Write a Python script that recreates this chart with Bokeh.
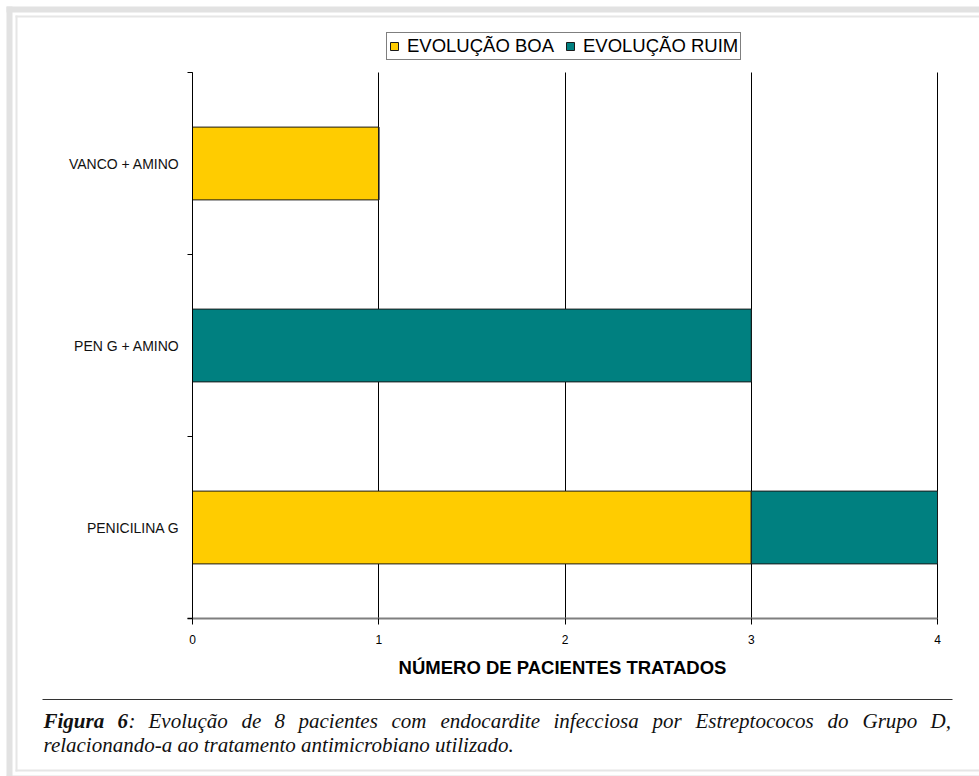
from bokeh.plotting import figure
from bokeh.models import (ColumnDataSource, Range1d, FixedTicker, Legend, LegendItem,
                          BoxAnnotation, Label, LinearAxis, Grid)
from bokeh.embed import file_html
from bokeh.resources import INLINE

# ---- data -------------------------------------------------------------
categories = ["PENICILINA G", "PEN G + AMINO", "VANCO + AMINO"]
evolucao_boa = [3, 0, 1]
evolucao_ruim = [1, 3, 0]
series_labels = ["EVOLUÇÃO BOA", "EVOLUÇÃO RUIM"]
series_colors = ["#FFCC00", "#008080"]
x_ticks = [0, 1, 2, 3, 4]
x_title = "NÚMERO DE PACIENTES TRATADOS"

caption_words = ["Figura", "6", ":", "Evolução", "de", "8", "pacientes", "com",
                 "endocardite", "infecciosa", "por", "Estreptococos", "do",
                 "Grupo", "D,"]
caption_line2 = "relacionando-a ao tratamento antimicrobiano utilizado."

# ---- page geometry (pixels) ---------------------------------------------
W, H = 979, 776
FL, FR, FT, FB = 192, 937, 72, 618   # edges of the bar area on the page

n = len(categories)
x_max = max(x_ticks)
px_x = (FR - FL) / x_max            # pixels per patient
px_y = (FB - FT) / n                # pixels per category row

y_centres = [i + 0.5 for i in range(n)]
y_bounds = [float(i) for i in range(n + 1)]

source = ColumnDataSource(dict(y=y_centres, boa=evolucao_boa, ruim=evolucao_ruim))

# the drawing frame covers the whole page; the ranges put 0..4 / rows on the bar area
p = figure(width=W, height=H, output_backend="svg", toolbar_location=None,
           x_range=Range1d(-FL / px_x, x_max + (W - FR) / px_x),
           y_range=Range1d(-(H - FB) / px_y, n + FT / px_y),
           x_axis_location=None, y_axis_location=None,
           min_border=0)
p.outline_line_color = None
p.background_fill_color = "white"
p.border_fill_color = "white"
for g in p.grid:
    g.visible = False


def page_box(x0, y0, x1, y1, color):
    p.add_layout(BoxAnnotation(left=x0, right=x1, top=H - y0, bottom=H - y1,
                               left_units="screen", right_units="screen",
                               top_units="screen", bottom_units="screen",
                               fill_color=color, fill_alpha=1, line_color=None,
                               level="underlay"))


def page_text(x, y, text, style="italic", size="21px", font="Liberation Serif"):
    p.add_layout(Label(x=x, y=H - y, x_units="screen", y_units="screen",
                       text=text, text_font=font, text_font_size=size,
                       text_font_style=style, text_color="#111111",
                       text_baseline="alphabetic", text_align="left"))


# page border: a light band and a thin inner line
band, thin = "#e2e2e2", "#e6e6e6"
page_box(6, 6, 12, H + 10, band)
page_box(6, 6, W + 10, 12, band)
page_box(6, 775, W + 10, H + 10, band)
page_box(15, 15, 17, 771, thin)
page_box(15, 15, W + 10, 17, thin)
page_box(15, 769, W + 10, 771, thin)

# vertical grid lines limited to the bar area
grid_kw = dict(dimension=0, ticker=FixedTicker(ticks=x_ticks, minor_ticks=[]),
               grid_line_color="black", grid_line_width=1)
if "cross_bounds" in Grid.properties():
    grid_kw["cross_bounds"] = (0, n)
p.add_layout(Grid(**grid_kw))

renderers = p.hbar_stack(["boa", "ruim"], y="y", height=0.4, color=series_colors,
                         line_color="#1a1a1a", line_width=1, source=source)

# x axis
xa = LinearAxis(fixed_location=0, bounds=(-0.025, x_max),
                ticker=FixedTicker(ticks=x_ticks, minor_ticks=[]))
xa.axis_line_color = "#7f7f7f"
xa.axis_line_width = 2
xa.major_tick_in = 0
xa.major_tick_out = 6
xa.major_tick_line_color = "black"
xa.minor_tick_line_color = None
xa.major_label_text_font = "Liberation Sans"
xa.major_label_text_font_size = "12px"
xa.major_label_text_color = "black"
xa.major_label_standoff = 10
xa.axis_label = x_title
xa.axis_label_text_font = "Liberation Sans"
xa.axis_label_text_font_style = "bold"
xa.axis_label_text_font_size = "18.5px"
xa.axis_label_text_color = "black"
xa.axis_label_standoff = 10
p.add_layout(xa, "below")

# y axis: labels centred on each category, ticks on the category boundaries
ya = LinearAxis(fixed_location=0, bounds=(0, n),
                ticker=FixedTicker(ticks=y_centres, minor_ticks=y_bounds))
ya.major_label_overrides = {y: c for y, c in zip(y_centres, categories)}
ya.axis_line_color = "black"
ya.axis_line_width = 1
ya.major_tick_in = 0
ya.major_tick_out = 0
ya.minor_tick_in = 0
ya.minor_tick_out = 5
ya.minor_tick_line_color = "black"
ya.major_label_text_font = "Liberation Sans"
ya.major_label_text_font_size = "14px"
ya.major_label_text_color = "#111111"
ya.major_label_standoff = 8
p.add_layout(ya, "left")

legend = Legend(items=[LegendItem(label=lab, renderers=[r])
                       for lab, r in zip(series_labels, renderers)],
                orientation="horizontal", location=(386, H - 60),
                glyph_width=10, glyph_height=10, label_standoff=8, spacing=11,
                padding=2, margin=0, label_height=18,
                label_text_font="Liberation Sans", label_text_font_size="18.5px",
                label_text_color="black",
                border_line_color="black", border_line_width=1,
                background_fill_color="white", background_fill_alpha=1)
p.add_layout(legend, "center")

# rule above the caption
page_box(42, 698.5, 952, 699.5, "#333333")

# caption, first line set justified word by word
word_x = [43, 117, 128, 148, 241, 274, 298, 391, 440, 553, 652, 695, 827, 862, 930]
line1_base = 720
for wx, w in zip(word_x, caption_words):
    style = "bold italic" if w in ("Figura", "6") else "italic"
    page_text(wx, line1_base, w, style=style)
page_text(43, line1_base + 24, caption_line2)

open("out.html", "w").write(file_html(p, INLINE))
